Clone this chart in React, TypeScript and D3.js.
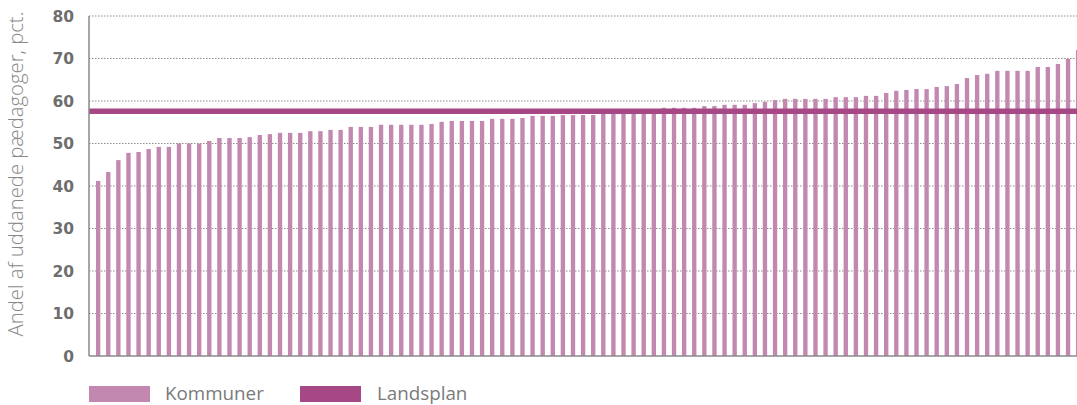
import React from "react";
import * as d3 from "d3";

const kommuneValues: number[] = [
  41.2, 43.3, 46.1, 47.8, 48.0, 48.7, 49.2, 49.2, 50.0, 50.0,
  50.0, 50.6, 51.3, 51.3, 51.3, 51.5, 52.0, 52.2, 52.5, 52.5,
  52.5, 52.9, 52.9, 53.2, 53.2, 53.9, 53.9, 53.9, 54.4, 54.4,
  54.4, 54.4, 54.4, 54.6, 55.1, 55.3, 55.3, 55.3, 55.3, 55.8,
  55.8, 55.8, 56.0, 56.5, 56.5, 56.5, 56.7, 56.7, 56.7, 56.7,
  57.2, 57.2, 57.2, 57.4, 57.6, 57.6, 58.4, 58.4, 58.4, 58.4,
  58.8, 58.8, 59.1, 59.1, 59.1, 59.5, 59.8, 60.2, 60.5, 60.5,
  60.5, 60.5, 60.5, 60.9, 60.9, 60.9, 61.2, 61.2, 61.9, 62.4,
  62.6, 62.8, 62.8, 63.3, 63.5, 64.0, 65.4, 66.1, 66.4, 67.1,
  67.1, 67.1, 67.1, 68.0, 68.0, 68.7, 69.9, 72.0,
];
const landsplanValue = 57.6;
const yTicks: number[] = [0, 10, 20, 30, 40, 50, 60, 70, 80];
const yAxisTitle = "Andel af uddanede pædagoger, pct.";
const legendLabels: string[] = ["Kommuner", "Landsplan"];

const BAR_COLOR = "#c388b0";
const LINE_COLOR = "#a64886";

export default function App() {
  const width = 1077;
  const height = 405;
  const axisX = 89;
  const x = d3
    .scaleBand<number>()
    .domain(kommuneValues.map((_, i) => i))
    .range([93.1, 1083.2])
    .paddingInner(0.57)
    .paddingOuter(0.285);
  const y = d3.scaleLinear().domain([0, 80]).range([356, 16]);

  return (
    <svg
      width={width}
      height={height}
      style={{ position: "absolute", left: 0, top: 0, display: "block" }}
    >
      <rect x={0} y={0} width={width} height={height} fill="#ffffff" />
      {yTicks
        .filter((t) => t > 0)
        .map((t) => (
          <line
            key={"g" + t}
            x1={axisX}
            x2={width}
            y1={y(t)}
            y2={y(t)}
            stroke="#8c8c8c"
            strokeWidth={1}
            strokeDasharray="1.5,1.5"
          />
        ))}
      {kommuneValues.map((v, i) => (
        <rect
          key={"b" + i}
          x={x(i)}
          y={y(v)}
          width={x.bandwidth()}
          height={y(0) - y(v)}
          fill={BAR_COLOR}
        />
      ))}
      <line
        x1={axisX}
        x2={width}
        y1={y(landsplanValue)}
        y2={y(landsplanValue)}
        stroke={LINE_COLOR}
        strokeWidth={5.5}
      />
      <line x1={axisX} x2={axisX} y1={y(80)} y2={y(0)} stroke="#8a8a8a" strokeWidth={1.5} />
      <line x1={axisX} x2={width} y1={y(0)} y2={y(0)} stroke="#8a8a8a" strokeWidth={1.5} />
      {yTicks.map((t) => (
        <text
          key={"t" + t}
          x={74}
          y={y(t)}
          dy="0.36em"
          textAnchor="end"
          fontFamily="DejaVu Sans"
          fontWeight="bold"
          fontSize={15.5}
          fill="#6e6e6e"
        >
          {t}
        </text>
      ))}
      <text
        transform={`translate(23,${(10 + 338) / 2}) rotate(-90)`}
        textAnchor="middle"
        fontFamily="Open Sans"
        fontWeight={300}
        fontSize={20.3}
        fill="#888888"
      >
        {yAxisTitle}
      </text>
      <rect x={89} y={386} width={61} height={16} fill={BAR_COLOR} />
      <text x={165} y={400} fontFamily="Open Sans" fontSize={18.8} fill="#7a7a7a">
        {legendLabels[0]}
      </text>
      <rect x={300} y={386} width={61} height={16} fill={LINE_COLOR} />
      <text x={377} y={400} fontFamily="Open Sans" fontSize={18.8} fill="#7a7a7a">
        {legendLabels[1]}
      </text>
    </svg>
  );
}
